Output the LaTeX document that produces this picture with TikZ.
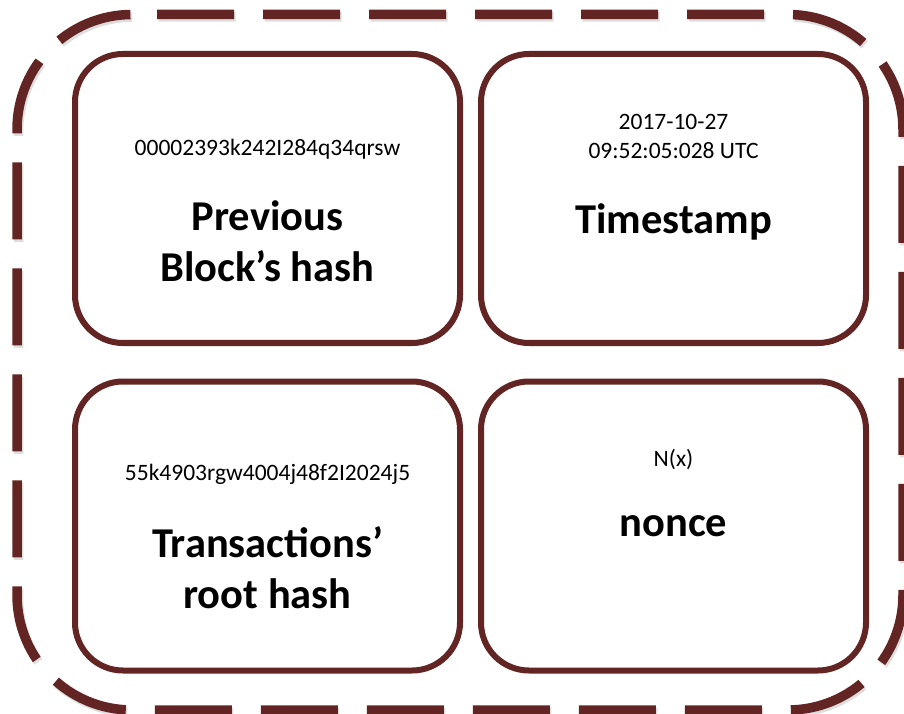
\documentclass[tikz,border=0pt]{standalone}
\usepackage{fontspec}
\setmainfont{Carlito}
\usetikzlibrary{backgrounds}
\definecolor{brick}{RGB}{99,37,35}
\definecolor{shadowgray}{RGB}{222,222,222}
\def\outerpath{(132,698.5) -- (788,698.5) arc[start angle=90, end angle=0, radius=115]
  -- (903,118) arc[start angle=0, end angle=-90, radius=115]
  -- (132,3) arc[start angle=270, end angle=180, radius=115]
  -- (17,583.5) arc[start angle=180, end angle=90, radius=115] -- cycle}
\tikzset{
  block/.style={draw=brick, line width=6pt, rounded corners=48pt, minimum width=385pt,
    minimum height=289pt, outer sep=0pt, inner sep=0pt},
  blockshadow/.style={draw=shadowgray, line width=6pt, rounded corners=48pt},
  frame/.style={draw=brick, line width=9.5pt, dash pattern=on 77pt off 29pt, dash phase=81pt},
  frameshadow/.style={draw=shadowgray, line width=9.5pt, dash pattern=on 77pt off 29pt, dash phase=81pt},
  small/.style={font=\fontsize{23.5}{28}\selectfont, anchor=base, inner sep=0pt},
  big/.style={font=\fontsize{42.5}{51}\selectfont\bfseries, anchor=base, inner sep=0pt}
}
\begin{document}
\begin{tikzpicture}[x=1pt,y=1pt]
\useasboundingbox (0,0) rectangle (904,713);
\fill[white] (0,0) rectangle (904,713);
% outer dashed frame
\begin{scope}[shift={(1.5,-2.5)}]
  \draw[frameshadow] \outerpath;
\end{scope}
\draw[frame] \outerpath;
% boxes
\node[block] (prevbox)  at (267.5,514.5) {};
\node[block] (timebox)  at (673.5,514.5) {};
\node[block] (transbox) at (267.5,187) {};
\node[block] (noncebox) at (673.5,187) {};
\begin{scope}[on background layer]
  \foreach \b in {prevbox,timebox,transbox,noncebox}{
    \draw[blockshadow] ([shift={(1.5,-2.5)}]\b.south west) rectangle ([shift={(1.5,-2.5)}]\b.north east);
  }
\end{scope}
% texts
\node[small] (prevhash) at (267.5,557.5) {00002393k242I284q34qrsw};
\node[big] (prevt1) at (267.5,482) {Previous};
\node[big] (prevt2) at (267.5,431) {Block’s hash};
\node[small] (date) at (673.5,583.5) {2017-10-27};
\node[small] (time) at (673.5,554.5) {09:52:05:028 UTC};
\node[big] (timet) at (673.5,479) {Timestamp};
\node[small] (roothash) at (267.5,232.5) {55k4903rgw4004j48f2I2024j5};
\node[big] (transt1) at (267.5,156) {Transactions’};
\node[big] (transt2) at (267.5,105) {root hash};
\node[small] (nx) at (673.5,246.5) {N(x)};
\node[big] (noncet) at (673.5,177) {nonce};
\end{tikzpicture}
\end{document}
